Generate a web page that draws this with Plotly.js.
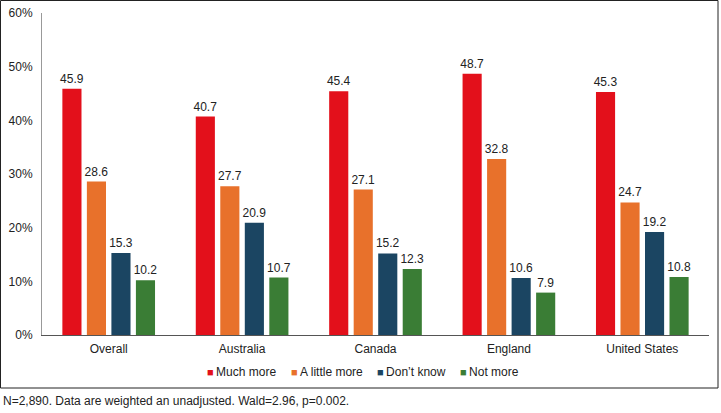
<!DOCTYPE html>
<html><head><meta charset="utf-8">
<script src="https://cdn.plot.ly/plotly-3.0.1.min.js"></script>
<style>html,body{margin:0;padding:0;background:#fff}#chart{width:721px;height:413px}</style>
</head><body><div id="chart"></div>
<script>
var categories = ["Overall", "Australia", "Canada", "England", "United States"];
var muchMore = [45.9, 40.7, 45.4, 48.7, 45.3];
var littleMore = [28.6, 27.7, 27.1, 32.8, 24.7];
var dontKnow = [15.3, 20.9, 15.2, 10.6, 19.2];
var notMore = [10.2, 10.7, 12.3, 7.9, 10.8];
var seriesNames = ["Much more", "A little more", "Don\u2019t know", "Not more"];
var seriesColors = ["#E3101B", "#E8712B", "#1B4562", "#3A7D35"];
var footnote = "N=2,890. Data are weighted an unadjusted. Wald=2.96, p=0.002.";

var allSeries = [muchMore, littleMore, dontKnow, notMore];
var data = allSeries.map(function(vals, i){
  return {
    type: 'bar', x: categories, y: vals, name: seriesNames[i],
    marker: {color: seriesColors[i]},
    text: vals.map(function(v){return v.toFixed(1);}),
    textposition: 'outside', cliponaxis: false, constraintext: 'none',
    textfont: {family: 'Liberation Sans, Arial, sans-serif', size: 12, color: '#222'},
    hoverinfo: 'x+y'
  };
});

var W = 721, H = 413, L = 42, R = 12, T = 13, B = 78;
var pw = W - L - R, ph = H - T - B;
function px(x){ return (x - L) / pw; }
function py(y){ return (H - B - y) / ph; }

// legend drawn as text items, one per series
var legendX = [205, 289, 375, 458];
var legendAnn = seriesNames.map(function(n, i){
  return {text: '<span style="color:' + seriesColors[i] + ';font-size:11px">\u25A0</span>\u2009' + n,
          xref: 'paper', yref: 'paper', x: px(legendX[i]), y: py(372), xanchor: 'left', yanchor: 'middle',
          showarrow: false, font: {size: 12, color: '#222'}};
});

var layout = {
  width: W, height: H,
  margin: {l: L, r: R, t: T, b: B},
  paper_bgcolor: '#fff', plot_bgcolor: '#fff',
  font: {family: 'Liberation Sans, Arial, sans-serif', size: 12, color: '#222'},
  barmode: 'group', bargap: 0.265, bargroupgap: 0.22,
  showlegend: false,
  xaxis: {showline: true, linecolor: '#555', linewidth: 1, ticks: '', showgrid: false,
          tickfont: {size: 12, color: '#222'}, fixedrange: true, ticklabelstandoff: 3},
  yaxis: {range: [0, 60], dtick: 10, ticksuffix: '%', showline: true, linecolor: '#999', linewidth: 1,
          showgrid: false, zeroline: false, ticks: '', tickfont: {size: 12, color: '#222'}, fixedrange: true,
          ticklabelstandoff: 6},
  shapes: [{type: 'rect', xref: 'paper', yref: 'paper', x0: px(0.5), x1: px(718), y0: py(388), y1: py(0.5),
            line: {color: '#222', width: 1}, fillcolor: 'rgba(0,0,0,0)'}],
  annotations: legendAnn.concat([{text: footnote, xref: 'paper', yref: 'paper', x: px(1), y: py(401), xanchor: 'left', yanchor: 'middle',
                 showarrow: false, font: {size: 12, color: '#222'}}])
};
Plotly.newPlot('chart', data, layout, {displayModeBar: false, staticPlot: true});
</script></body></html>
